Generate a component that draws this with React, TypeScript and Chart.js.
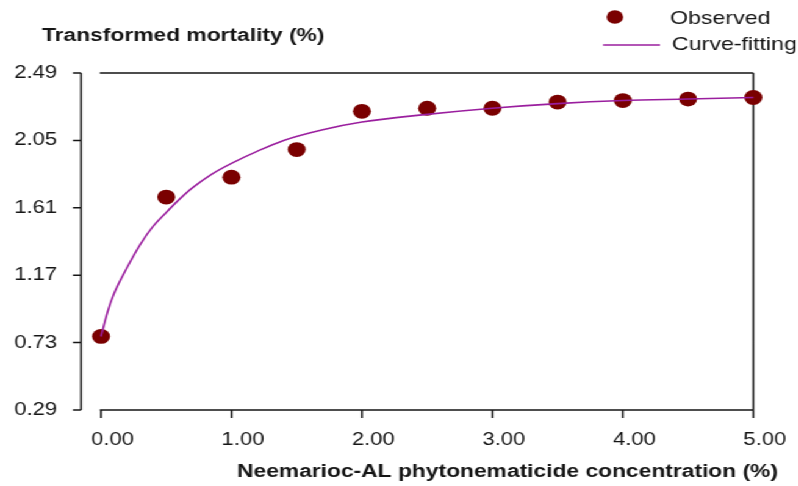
import React, { useEffect, useRef } from "react";
import { Chart, registerables } from "chart.js";

Chart.register(...registerables);

// Concentration (%) and transformed mortality values
const CONCENTRATION = [0, 0.5, 1, 1.5, 2, 2.5, 3, 3.5, 4, 4.5, 5];
const OBSERVED = [0.77, 1.68, 1.81, 1.99, 2.24, 2.26, 2.26, 2.3, 2.31, 2.32, 2.33];

// Fitted response curve, sampled along the concentration axis
const FIT_X = [0, 0.05, 0.1, 0.2, 0.3, 0.4, 0.5, 0.6, 0.7, 0.85, 1.0, 1.2, 1.4, 1.7, 2.0, 2.5, 3.0, 3.5, 4.0, 4.5, 5.0];
const FIT_Y = [0.77, 0.93, 1.05, 1.22, 1.37, 1.49, 1.58, 1.665, 1.74, 1.83, 1.9, 1.98, 2.05, 2.12, 2.17, 2.22, 2.26, 2.29, 2.31, 2.32, 2.33];

const X_TICKS = [0, 1, 2, 3, 4, 5];
const Y_TICKS = [0.29, 0.73, 1.17, 1.61, 2.05, 2.49];

const Y_TITLE = "Transformed mortality (%)";
const X_TITLE = "Neemarioc-AL phytonematicide concentration (%)";
const LEGEND_POINTS = "Observed";
const LEGEND_CURVE = "Curve-fitting";

// The figure is drawn on a narrower canvas and widened horizontally.
const SX = 1.22;
const W = 654;
const H = 486;

const FONT = '"Liberation Sans", Arial, Helvetica, sans-serif';
const POINT_COLOR = "#7a0000";
const CURVE_COLOR = "#9a1e9e";
const INK = "#151515";

const framePlugin = {
  id: "frame",
  beforeDatasetsDraw(chart: any) {
    const { ctx, chartArea, scales } = chart;
    const { left, right, top, bottom } = chartArea;
    const x = scales.x;
    const y = scales.y;
    ctx.save();
    ctx.strokeStyle = INK;
    ctx.lineWidth = 1.5;
    ctx.beginPath();
    // top border
    ctx.moveTo(left - 1, top);
    ctx.lineTo(right, top);
    // right border, running down through the last tick
    ctx.moveTo(right, top);
    ctx.lineTo(right, bottom + 8);
    // x axis with ticks
    ctx.moveTo(left - 1, bottom);
    ctx.lineTo(right, bottom);
    X_TICKS.forEach((v) => {
      const px = x.getPixelForValue(v);
      ctx.moveTo(px, bottom);
      ctx.lineTo(px, bottom + 8);
    });
    // detached y axis with ticks
    const ax = left - 16.4;
    ctx.moveTo(ax, y.getPixelForValue(Y_TICKS[0]));
    ctx.lineTo(ax, y.getPixelForValue(Y_TICKS[Y_TICKS.length - 1]));
    Y_TICKS.forEach((v) => {
      const py = y.getPixelForValue(v);
      ctx.moveTo(ax, py);
      ctx.lineTo(ax - 6.6, py);
    });
    ctx.stroke();
    ctx.restore();
  },
  afterDraw(chart: any) {
    const { ctx } = chart;
    ctx.save();
    // axis titles
    ctx.fillStyle = INK;
    ctx.font = `bold 18.7px ${FONT}`;
    ctx.textBaseline = "middle";
    ctx.textAlign = "left";
    ctx.fillText(Y_TITLE, 34.4, 36);
    ctx.textAlign = "center";
    ctx.fillText(X_TITLE, 416, 472);

    // legend
    ctx.fillStyle = POINT_COLOR;
    ctx.beginPath();
    ctx.arc(504, 17, 6.8, 0, Math.PI * 2);
    ctx.fill();
    ctx.strokeStyle = CURVE_COLOR;
    ctx.lineWidth = 1.6;
    ctx.beginPath();
    ctx.moveTo(494.3, 45);
    ctx.lineTo(541, 45);
    ctx.stroke();
    ctx.fillStyle = INK;
    ctx.font = `19px ${FONT}`;
    ctx.textAlign = "left";
    ctx.fillText(LEGEND_POINTS, 549.2, 19);
    ctx.fillText(LEGEND_CURVE, 550.8, 45);
    ctx.restore();
  },
};

export default function App() {
  const canvasRef = useRef<HTMLCanvasElement | null>(null);

  useEffect(() => {
    const canvas = canvasRef.current;
    if (!canvas) return;
    const chart = new Chart(canvas, {
      type: "scatter",
      data: {
        datasets: [
          {
            type: "line",
            label: LEGEND_CURVE,
            data: FIT_X.map((v, i) => ({ x: v, y: FIT_Y[i] })),
            borderColor: CURVE_COLOR,
            borderWidth: 1.6,
            pointRadius: 0,
            fill: false,
            cubicInterpolationMode: "monotone",
            clip: false,
          } as any,
          {
            type: "scatter",
            label: LEGEND_POINTS,
            data: CONCENTRATION.map((v, i) => ({ x: v, y: OBSERVED[i] })),
            backgroundColor: POINT_COLOR,
            borderColor: POINT_COLOR,
            borderWidth: 0,
            pointRadius: 7.4,
            clip: false,
          } as any,
        ],
      },
      options: {
        responsive: false,
        animation: false,
        devicePixelRatio: 1,
        layout: { padding: { top: 73, right: 35.1, left: 0, bottom: 0 } },
        plugins: {
          legend: { display: false },
          tooltip: { enabled: false },
        },
        scales: {
          x: {
            type: "linear",
            min: 0,
            max: 5,
            afterBuildTicks: (s: any) => {
              s.ticks = X_TICKS.map((v) => ({ value: v }));
            },
            afterFit: (s: any) => {
              s.height = 76;
            },
            grid: { display: false, drawTicks: false },
            border: { display: false },
            ticks: {
              callback: (v: any) => Number(v).toFixed(2),
              font: { size: 18, family: FONT },
              color: INK,
              padding: 19,
              labelOffset: 9.4,
              maxRotation: 0,
              autoSkip: false,
            },
          },
          y: {
            type: "linear",
            min: 0.29,
            max: 2.49,
            afterBuildTicks: (s: any) => {
              s.ticks = Y_TICKS.map((v) => ({ value: v }));
            },
            afterFit: (s: any) => {
              s.width = 82.8;
            },
            grid: { display: false, drawTicks: false },
            border: { display: false },
            ticks: {
              callback: (v: any) => Number(v).toFixed(2),
              font: { size: 18, family: FONT },
              color: INK,
              padding: 36,
              autoSkip: false,
            },
          },
        },
      } as any,
      plugins: [framePlugin],
    });
    return () => chart.destroy();
  }, []);

  return (
    <div
      style={{
        position: "absolute",
        left: 0,
        top: 0,
        width: W,
        height: H,
        transform: `scaleX(${SX})`,
        transformOrigin: "0 0",
        background: "#fff",
      }}
    >
      <canvas ref={canvasRef} width={W} height={H} />
    </div>
  );
}
